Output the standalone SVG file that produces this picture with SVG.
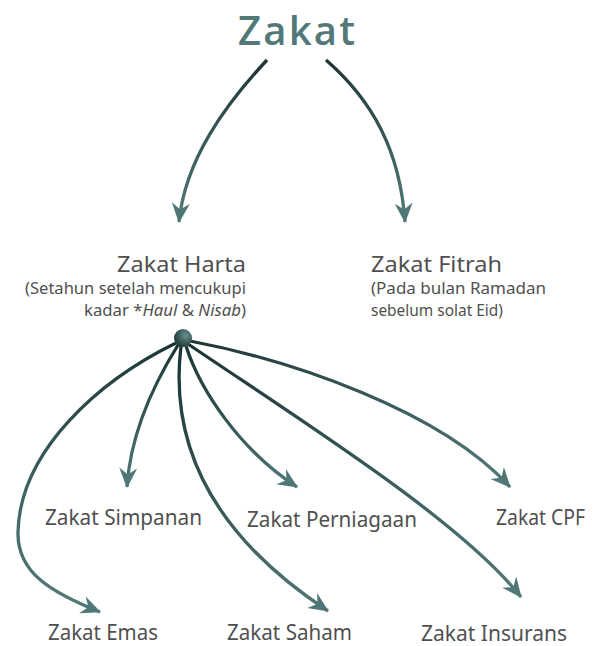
<svg xmlns="http://www.w3.org/2000/svg" width="593" height="646" viewBox="0 0 593 646">
<style>
.t{font-family:"Noto Sans","Liberation Sans",sans-serif;fill:#505050;}
.lab{font-size:22px;}
.sub{font-size:16px;}
.title{font-family:"Open Sans","Liberation Sans",sans-serif;font-weight:600;font-size:40px;fill:#527878;}
.arr{fill:none;stroke-width:3.3;marker-end:url(#ah);}
</style>
<defs>
<marker id="ah" markerUnits="userSpaceOnUse" markerWidth="26" markerHeight="26" viewBox="-22 -13 26 26" refX="0" refY="0" orient="auto">
<path d="M1,0 L-19,-9 L-12.5,0 L-19,9 Z" fill="#4f7777"/>
</marker>
<radialGradient id="hub" cx="0.65" cy="0.35" r="0.7">
<stop offset="0" stop-color="#6a9090"/>
<stop offset="1" stop-color="#1c3434"/>
</radialGradient>
<linearGradient id="g1" gradientUnits="userSpaceOnUse" x1="267" y1="60" x2="179" y2="222"><stop offset="0" stop-color="#1c3535"/><stop offset="1" stop-color="#517878"/></linearGradient>
<linearGradient id="g2" gradientUnits="userSpaceOnUse" x1="326" y1="60" x2="405" y2="222"><stop offset="0" stop-color="#1c3535"/><stop offset="1" stop-color="#517878"/></linearGradient>
<linearGradient id="g3" gradientUnits="userSpaceOnUse" x1="176" y1="343" x2="100" y2="612"><stop offset="0" stop-color="#1c3535"/><stop offset="1" stop-color="#517878"/></linearGradient>
<linearGradient id="g4" gradientUnits="userSpaceOnUse" x1="178" y1="345" x2="127" y2="487"><stop offset="0" stop-color="#1c3535"/><stop offset="1" stop-color="#517878"/></linearGradient>
<linearGradient id="g5" gradientUnits="userSpaceOnUse" x1="181" y1="346" x2="328" y2="611"><stop offset="0" stop-color="#1c3535"/><stop offset="1" stop-color="#517878"/></linearGradient>
<linearGradient id="g6" gradientUnits="userSpaceOnUse" x1="186" y1="346" x2="297" y2="487"><stop offset="0" stop-color="#1c3535"/><stop offset="1" stop-color="#517878"/></linearGradient>
<linearGradient id="g7" gradientUnits="userSpaceOnUse" x1="188" y1="344" x2="521" y2="597"><stop offset="0" stop-color="#1c3535"/><stop offset="1" stop-color="#517878"/></linearGradient>
<linearGradient id="g8" gradientUnits="userSpaceOnUse" x1="190" y1="341" x2="510" y2="487"><stop offset="0" stop-color="#1c3535"/><stop offset="1" stop-color="#517878"/></linearGradient>
</defs>
<rect width="593" height="646" fill="#ffffff"/>

<g id="connectors">
<path class="arr" stroke="url(#g1)" d="M267,60 C225,105 185,160 179,222"/>
<path class="arr" stroke="url(#g2)" d="M326,60 C372,100 400,150 405,222"/>
<path class="arr" stroke="url(#g3)" d="M176,343 C100,380 20,450 18,532 C17,572 50,592 100,612"/>
<path class="arr" stroke="url(#g4)" d="M178,345 C150,390 130,440 127,487"/>
<path class="arr" stroke="url(#g5)" d="M181,346 C172,420 190,520 328,611"/>
<path class="arr" stroke="url(#g6)" d="M186,346 C200,390 240,450 297,487"/>
<path class="arr" stroke="url(#g7)" d="M188,344 C300,420 460,520 521,597"/>
<path class="arr" stroke="url(#g8)" d="M190,341 C290,360 440,410 510,487"/>
</g>

<g id="zakat">
<text class="title" x="238" y="45" textLength="117" lengthAdjust="spacing">Zakat</text>
</g>

<g id="zakat-harta">
<text class="t lab" x="117" y="272" textLength="129" lengthAdjust="spacingAndGlyphs">Zakat Harta</text>
<text class="t sub" x="25" y="294" textLength="221" lengthAdjust="spacingAndGlyphs">(Setahun setelah mencukupi</text>
<text class="t sub" x="84" y="316" textLength="162" lengthAdjust="spacingAndGlyphs">kadar *<tspan font-style="italic">Haul</tspan> &amp; <tspan font-style="italic">Nisab</tspan>)</text>
<circle id="hub-dot" cx="183" cy="338" r="9" fill="url(#hub)"/>
</g>

<g id="zakat-fitrah">
<text class="t lab" x="371" y="272" textLength="131" lengthAdjust="spacingAndGlyphs">Zakat Fitrah</text>
<text class="t sub" x="371" y="294" textLength="175" lengthAdjust="spacingAndGlyphs">(Pada bulan Ramadan</text>
<text class="t sub" x="371" y="316" textLength="132" lengthAdjust="spacingAndGlyphs">sebelum solat Eid)</text>
</g>

<g id="zakat-simpanan"><text class="t lab" x="45" y="525" textLength="157" lengthAdjust="spacingAndGlyphs">Zakat Simpanan</text></g>
<g id="zakat-perniagaan"><text class="t lab" x="247" y="527" textLength="170" lengthAdjust="spacingAndGlyphs">Zakat Perniagaan</text></g>
<g id="zakat-cpf"><text class="t lab" x="496" y="525" textLength="89" lengthAdjust="spacingAndGlyphs">Zakat CPF</text></g>
<g id="zakat-emas"><text class="t lab" x="48" y="640" textLength="110" lengthAdjust="spacingAndGlyphs">Zakat Emas</text></g>
<g id="zakat-saham"><text class="t lab" x="227" y="640" textLength="125" lengthAdjust="spacingAndGlyphs">Zakat Saham</text></g>
<g id="zakat-insurans"><text class="t lab" x="421" y="641" textLength="146" lengthAdjust="spacingAndGlyphs">Zakat Insurans</text></g>
</svg>
